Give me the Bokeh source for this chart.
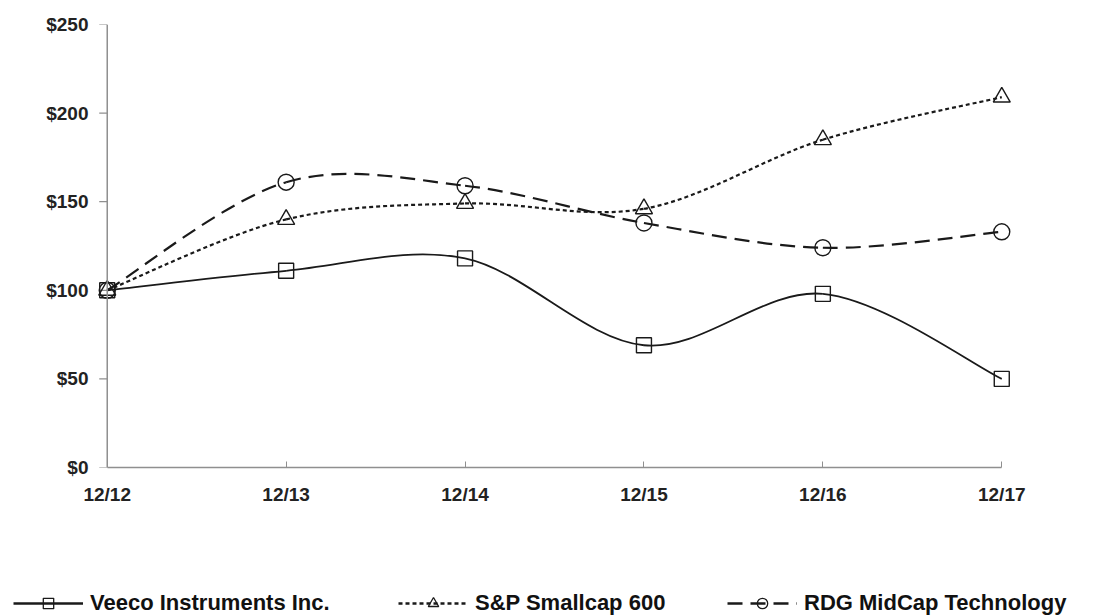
import math
from bokeh.plotting import figure
from bokeh.layouts import column
from bokeh.models import (Range1d, FixedTicker, NumeralTickFormatter, Legend, LegendItem,
                          ColumnDataSource, Span)
from bokeh.embed import file_html
from bokeh.resources import INLINE

# ---- data ----
periods = ["12/12", "12/13", "12/14", "12/15", "12/16", "12/17"]
veeco = [100, 111, 118, 69, 98, 50]
sp600 = [100, 140, 149, 146, 185, 209]
rdg = [100, 161, 159, 138, 124, 133]
y_ticks = [0, 50, 100, 150, 200, 250]
names = ["Veeco Instruments Inc.", "S&P Smallcap 600", "RDG MidCap Technology"]

FONT = "Liberation Sans"
INK = "#1a1a1a"
AXIS = "#8f8f8f"

x_idx = list(range(len(periods)))
PAD = 0.06

p = figure(output_backend="svg", toolbar_location=None,
           x_range=Range1d(-PAD, len(periods) - 1 + PAD), y_range=Range1d(0, 250),
           min_border_left=96, min_border_right=85, min_border_top=24, min_border_bottom=48)
p.frame_width = 916
p.frame_height = 443
p.frame_align = False
p.outline_line_color = None
p.xgrid.grid_line_color = None
p.ygrid.grid_line_color = None

p.xaxis.ticker = FixedTicker(ticks=x_idx)
p.xaxis.major_label_overrides = {i: s for i, s in enumerate(periods)}
p.xaxis.bounds = (0, len(periods) - 1)
p.xaxis.axis_line_color = AXIS
p.xaxis.axis_line_width = 1.5
p.xaxis.major_tick_line_color = AXIS
p.xaxis.major_tick_in = 6
p.xaxis.major_tick_out = 0
p.xaxis.major_label_standoff = 16

# y labels sit in the left panel; the y axis line/ticks are drawn at the first period
p.yaxis.ticker = FixedTicker(ticks=y_ticks)
p.yaxis.formatter = NumeralTickFormatter(format="$0")
p.yaxis.axis_line_color = None
p.yaxis.major_tick_line_color = None
p.yaxis.major_tick_in = 0
p.yaxis.major_tick_out = 0
p.yaxis.major_label_standoff = 8

for ax in (p.xaxis[0], p.yaxis[0]):
    ax.minor_tick_line_color = None
    ax.major_label_text_font = FONT
    ax.major_label_text_font_style = "bold"
    ax.major_label_text_font_size = "19px"
    ax.major_label_text_color = "#222222"

p.add_layout(Span(location=x_idx[0], dimension="height", line_color=AXIS, line_width=1.5))
p.ray(x=[x_idx[0]] * len(y_ticks), y=y_ticks, length=8, length_units="screen",
      angle=math.pi, line_color=AXIS, line_width=1.2)


def smooth(xs, ys, t=1.0 / 6.0):
    n = len(xs)
    out = dict(x0=[], y0=[], x1=[], y1=[], cx0=[], cy0=[], cx1=[], cy1=[])
    for i in range(n - 1):
        a = i - 1 if i > 0 else i
        d = i + 2 if i + 2 < n else i + 1
        out["x0"].append(xs[i]); out["y0"].append(ys[i])
        out["x1"].append(xs[i + 1]); out["y1"].append(ys[i + 1])
        out["cx0"].append(xs[i] + (xs[i + 1] - xs[a]) * t)
        out["cy0"].append(ys[i] + (ys[i + 1] - ys[a]) * t)
        out["cx1"].append(xs[i + 1] - (xs[d] - xs[i]) * t)
        out["cy1"].append(ys[i + 1] - (ys[d] - ys[i]) * t)
    return ColumnDataSource(out)


styles = [
    (veeco, "solid", 1.8, "square", 15),
    (sp600, "4 3", 2.2, "triangle", 17),
    (rdg, "15 8", 2.2, "circle", 16),
]

for ys, dash, lw, marker, size in styles:
    src = smooth(x_idx, ys)
    p.bezier(x0="x0", y0="y0", x1="x1", y1="y1", cx0="cx0", cy0="cy0", cx1="cx1", cy1="cy1",
             source=src, line_color=INK, line_width=lw, line_dash=dash)
    p.scatter(x_idx, ys, marker=marker, size=size, fill_alpha=0,
              line_color=INK, line_width=1.4)

# ---- legend strip (own figure, frame spans the full width) ----
q = figure(width=1097, height=101, output_backend="svg", toolbar_location=None,
           x_range=Range1d(0, 1), y_range=Range1d(0, 1),
           min_border_left=0, min_border_right=0, min_border_top=0, min_border_bottom=0)
q.frame_align = False
q.axis.visible = False
q.grid.visible = False
q.outline_line_color = None

leg_x = [13, 398, 727]
for (ys, dash, lw, marker, size), name, lx in zip(styles, names, leg_x):
    # renderers with data outside the visible range: they only show up in the legend
    lr = q.line(x_idx, ys, line_color=INK, line_width=2.4, line_dash=dash)
    sr = q.scatter(x_idx, ys, marker=marker, size=size, fill_alpha=0,
                   line_color=INK, line_width=1.3)
    leg = Legend(items=[LegendItem(label=name, renderers=[lr, sr])], location=(lx, 0),
                 orientation="horizontal", border_line_color=None, background_fill_alpha=0,
                 label_text_font=FONT, label_text_font_style="bold", label_text_font_size="22px",
                 label_text_color="#111111", glyph_width=70, glyph_height=26,
                 label_standoff=7, padding=0, margin=0)
    q.add_layout(leg, "center")

open("out.html", "w").write(file_html(column(p, q, spacing=0), INLINE))
